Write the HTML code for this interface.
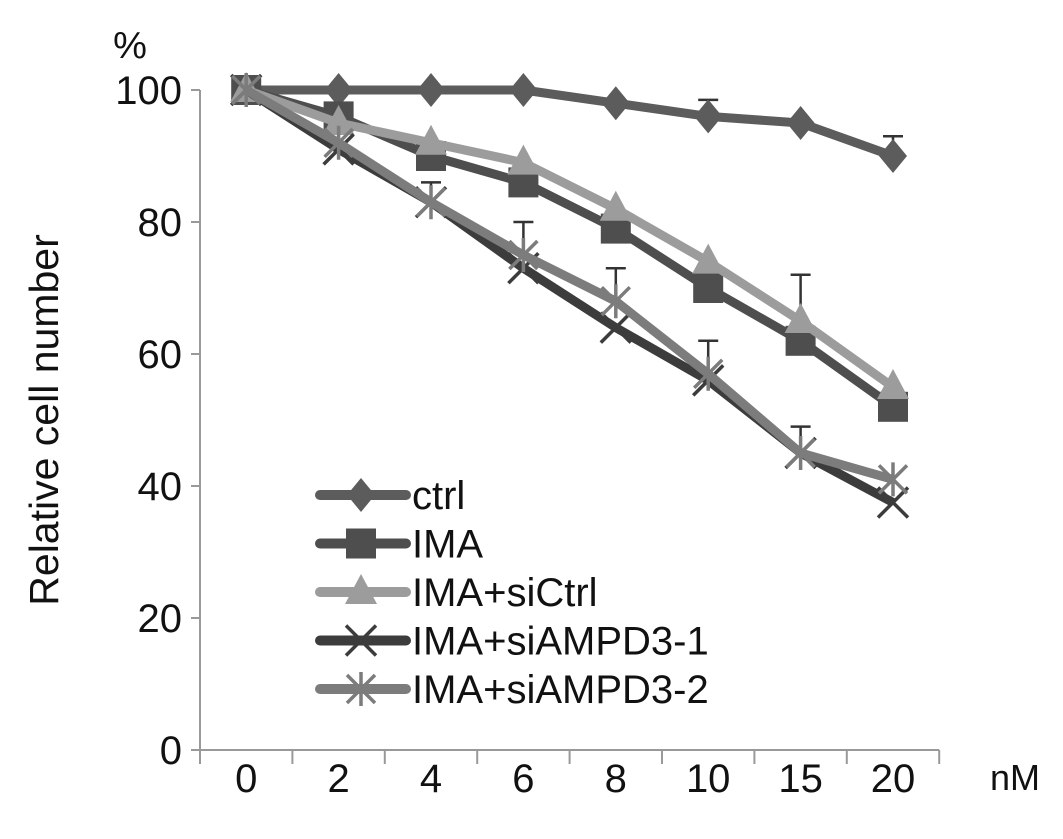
<!DOCTYPE html>
<html><head><meta charset="utf-8"><style>
body{margin:0;background:#fff}
svg{display:block;font-family:"Liberation Sans",Arial,sans-serif}
</style></head><body>
<svg id="c" width="1063" height="839"></svg>
<script>
const categories=["0","2","4","6","8","10","15","20"];
const yTicks=[0,20,40,60,80,100];
const ctrl=[100,100,100,100,98,96,95,90];
const ima=[100,96,90,86,79,70,62,52];
const imaSiCtrl=[100,95,92,89,82,74,65,55];
const siAMPD31=[100,91,83,73,64,56,45,37.5];
const siAMPD32=[100,92,83,75,68,57,45,41];
const errCtrl=[0,0,0,0,0,2.5,0,3];
const errIma=[0,0,2,0,0,0,0,0];
const errSiCtrl=[0,0,0,0,0,0,7,0];
const errSi1=[0,0,0,0,0,0,0,0];
const errSi2=[0,0,3,5,5,5,4,0];
const seriesNames=["ctrl","IMA","IMA+siCtrl","IMA+siAMPD3-1","IMA+siAMPD3-2"];

const NS="http://www.w3.org/2000/svg",svg=document.getElementById('c');
const x0=200,step=92.4,yBase=750,yTop=90;
const X=i=>x0+(i+0.5)*step;
const Y=v=>yBase-(v/100)*(yBase-yTop);
function mk(t,a,p){const e=document.createElementNS(NS,t);for(const k in a)e.setAttribute(k,a[k]);(p||svg).appendChild(e);return e;}

const ya=mk('line',{x1:x0,y1:yTop,x2:x0,y2:yBase,stroke:'#999','stroke-width':2});


const xa=mk('line',{x1:x0,y1:yBase,x2:x0+8*step,y2:yBase,stroke:'#999','stroke-width':2});


yTicks.forEach(v=>{
  mk('line',{x1:x0-9,y1:Y(v),x2:x0,y2:Y(v),stroke:'#999','stroke-width':2});
  const t=mk('text',{x:x0-18,y:Y(v)+14,'text-anchor':'end','font-size':40,fill:'#111'});
  t.textContent=v;
  
  
});
for(let i=0;i<=8;i++)mk('line',{x1:x0+i*step,y1:yBase,x2:x0+i*step,y2:yBase+14,stroke:'#999','stroke-width':2});
categories.forEach((c,i)=>{
  const t=mk('text',{x:X(i),y:792,'text-anchor':'middle','font-size':40,fill:'#111'});
  t.textContent=c;
  
  
});
let t=mk('text',{x:1015,y:790,'text-anchor':'middle','font-size':36,fill:'#111'});t.textContent='nM';


t=mk('text',{x:130,y:58,'text-anchor':'middle','font-size':38,fill:'#111'});t.textContent='%';


t=mk('text',{x:0,y:0,'text-anchor':'middle','font-size':41,fill:'#111',transform:'translate(58,420) rotate(-90)'});t.textContent='Relative cell number';



function marker(type,cx,cy,col,g){
  if(type==='diamond')mk('polygon',{points:`${cx},${cy-17} ${cx+14},${cy} ${cx},${cy+17} ${cx-14},${cy}`,fill:col},g);
  else if(type==='square')mk('rect',{x:cx-15,y:cy-15,width:30,height:30,fill:col},g);
  else if(type==='tri')mk('polygon',{points:`${cx},${cy-18} ${cx+16},${cy+12} ${cx-16},${cy+12}`,fill:col},g);
  else if(type==='x'){mk('path',{d:`M${cx-15} ${cy-15}L${cx+15} ${cy+15}M${cx+15} ${cy-15}L${cx-15} ${cy+15}`,stroke:col,'stroke-width':3.5},g);}
  else {mk('path',{d:`M${cx-14} ${cy-14}L${cx+14} ${cy+14}M${cx+14} ${cy-14}L${cx-14} ${cy+14}M${cx} ${cy-17}L${cx} ${cy+17}`,stroke:col,'stroke-width':3.5},g);}
}
const defs=[
 [ctrl,errCtrl,'#5c5c5c','diamond'],
 [ima,errIma,'#4e4e4e','square'],
 [imaSiCtrl,errSiCtrl,'#9c9c9c','tri'],
 [siAMPD31,errSi1,'#3c3c3c','x'],
 [siAMPD32,errSi2,'#7c7c7c','star']];
defs.forEach(([d,e,col,m],s)=>{
  const g=mk('g',{});
  
  
  d.forEach((v,i)=>{if(e[i]>0){
    mk('line',{x1:X(i),y1:Y(v),x2:X(i),y2:Y(v+e[i]),stroke:'#333','stroke-width':2.5},g);
    mk('line',{x1:X(i)-10,y1:Y(v+e[i]),x2:X(i)+10,y2:Y(v+e[i]),stroke:'#333','stroke-width':2.5},g);}});
  mk('polyline',{points:d.map((v,i)=>X(i)+','+Y(v)).join(' '),fill:'none',stroke:col,'stroke-width':9,'stroke-linejoin':'round'},g);
  d.forEach((v,i)=>marker(m,X(i),Y(v),col,g));
  const ly=495+s*48.5;
  const lg=mk('g',{});
  
  
  mk('line',{x1:320,y1:ly,x2:406,y2:ly,stroke:col,'stroke-width':10,'stroke-linecap':'round'},lg);
  marker(m,361,ly,col,lg);
  const lt=mk('text',{x:412,y:ly+14,'font-size':40,fill:'#111'},lg);lt.textContent=seriesNames[s];
});
</script>
</body></html>
